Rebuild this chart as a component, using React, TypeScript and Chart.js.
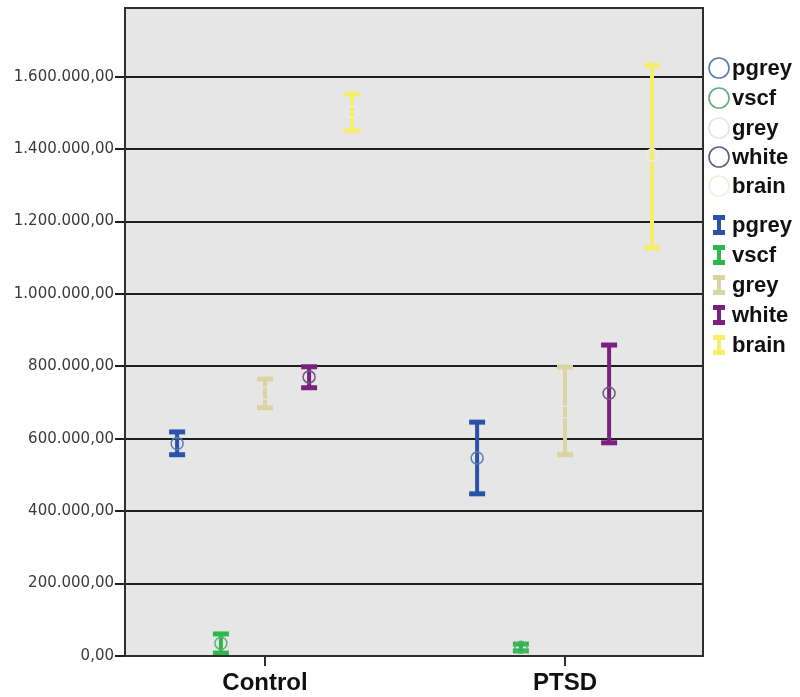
import React, { useEffect, useRef } from "react";
import { Chart, registerables } from "chart.js";

Chart.register(...registerables);

const categories = ["Control", "PTSD"];
const seriesNames = ["pgrey", "vscf", "grey", "white", "brain"];
const barColors = ["#2b52a8", "#2eb84c", "#d9d4a2", "#7c2080", "#f5ee6b"];
const circleColors = ["#5c7ab4", "#5cb080", "#e6e6e0", "#6c5a82", "#eeeee2"];
const seriesOffsets = [-0.293, -0.147, 0, 0.147, 0.29];

const meanPgrey = [587000, 547000];
const meanVscf = [35000, 24000];
const meanGrey = [726000, 674000];
const meanWhite = [771000, 726000];
const meanBrain = [1503000, 1384000];

const lowPgrey = [556000, 448000];
const lowVscf = [8000, 14000];
const lowGrey = [686000, 556000];
const lowWhite = [741000, 589000];
const lowBrain = [1451000, 1127000];

const highPgrey = [619000, 646000];
const highVscf = [61000, 33000];
const highGrey = [765000, 798000];
const highWhite = [799000, 859000];
const highBrain = [1552000, 1632000];

const yTickValues = [0, 200000, 400000, 600000, 800000, 1000000, 1200000, 1400000, 1600000];
const yMax = 1790000;

const means = [meanPgrey, meanVscf, meanGrey, meanWhite, meanBrain];
const lows = [lowPgrey, lowVscf, lowGrey, lowWhite, lowBrain];
const highs = [highPgrey, highVscf, highGrey, highWhite, highBrain];

function formatDe(v: number): string {
  const intPart = Math.round(v).toString().replace(/\B(?=(\d{3})+(?!\d))/g, ".");
  return intPart + ",00";
}

const plotBgPlugin = {
  id: "plotBg",
  beforeDraw(chart: any) {
    const { ctx, chartArea } = chart;
    ctx.save();
    ctx.fillStyle = "#e6e6e6";
    ctx.fillRect(chartArea.left, chartArea.top, chartArea.right - chartArea.left, chartArea.bottom - chartArea.top);
    ctx.restore();
  },
  afterDraw(chart: any) {
    const { ctx, chartArea } = chart;
    ctx.save();
    ctx.strokeStyle = "#2e2e2e";
    ctx.lineWidth = 2;
    ctx.strokeRect(chartArea.left, chartArea.top, chartArea.right - chartArea.left, chartArea.bottom - chartArea.top);
    ctx.restore();
  },
};

const legendPlugin = {
  id: "customLegend",
  afterDraw(chart: any) {
    const { ctx } = chart;
    const x0 = 719;
    const tx = 732;
    const circleYs = [68, 98, 128, 157, 186];
    const barYs = [225, 255, 285, 315, 345];
    ctx.save();
    ctx.font = "bold 22px 'Liberation Sans', Arial, sans-serif";
    ctx.textBaseline = "middle";
    ctx.textAlign = "left";
    seriesNames.forEach((name, i) => {
      const y = circleYs[i];
      ctx.beginPath();
      ctx.arc(x0, y, 10, 0, Math.PI * 2);
      ctx.strokeStyle = circleColors[i];
      ctx.lineWidth = 1.6;
      ctx.stroke();
      ctx.fillStyle = "#111";
      ctx.fillText(name, tx, y + 1);
    });
    seriesNames.forEach((name, i) => {
      const y = barYs[i];
      ctx.strokeStyle = barColors[i];
      ctx.lineWidth = 4;
      ctx.beginPath();
      ctx.moveTo(x0, y - 8);
      ctx.lineTo(x0, y + 8);
      ctx.stroke();
      ctx.lineWidth = 5;
      ctx.beginPath();
      ctx.moveTo(x0 - 6, y - 7.5);
      ctx.lineTo(x0 + 6, y - 7.5);
      ctx.moveTo(x0 - 6, y + 7.5);
      ctx.lineTo(x0 + 6, y + 7.5);
      ctx.stroke();
      ctx.fillStyle = "#111";
      ctx.fillText(name, tx, y + 1);
    });
    ctx.restore();
  },
};

export default function App() {
  const canvasRef = useRef<HTMLCanvasElement | null>(null);

  useEffect(() => {
    document.body.style.margin = "0";
    const canvas = canvasRef.current;
    if (!canvas) return;

    const datasets: any[] = [];
    seriesNames.forEach((name, s) => {
      datasets.push({
        label: name + " mean",
        data: categories.map((_, c) => ({ x: c + 1 + seriesOffsets[s], y: means[s][c] })),
        showLine: false,
        pointStyle: "circle",
        pointRadius: 6,
        pointBorderWidth: 1.5,
        pointBorderColor: circleColors[s],
        pointBackgroundColor: "rgba(0,0,0,0)",
      });
    });
    seriesNames.forEach((name, s) => {
      categories.forEach((_, c) => {
        const x = c + 1 + seriesOffsets[s];
        datasets.push({
          label: name + " CI " + categories[c],
          data: [
            { x, y: lows[s][c] },
            { x, y: highs[s][c] },
          ],
          showLine: true,
          borderColor: barColors[s],
          borderWidth: 4,
          pointStyle: "line",
          pointRadius: 8,
          pointBorderWidth: 5,
          pointBorderColor: barColors[s],
          pointBackgroundColor: barColors[s],
          pointHoverRadius: 8,
        });
      });
    });

    const chart = new Chart(canvas, {
      type: "scatter",
      data: { datasets },
      plugins: [plotBgPlugin, legendPlugin],
      options: {
        animation: false,
        responsive: false,
        maintainAspectRatio: false,
        layout: { autoPadding: false, padding: { top: 8, right: 97, left: 0, bottom: 0 } },
        plugins: {
          legend: { display: false },
          tooltip: { enabled: false },
        },
        scales: {
          x: {
            type: "linear",
            min: 1 - 140 / 300,
            max: 2 + 138 / 300,
            afterBuildTicks: (scale: any) => {
              scale.ticks = categories.map((_, i) => ({ value: i + 1 }));
            },
            afterFit: (scale: any) => {
              scale.height = 41;
              scale.paddingLeft = 0;
              scale.paddingRight = 0;
            },
            ticks: {
              callback: (v: any) => categories[Math.round(Number(v)) - 1] ?? "",
              font: { family: "'Liberation Sans', Arial, sans-serif", size: 24, weight: "bold" },
              color: "#111",
              padding: 3,
              maxRotation: 0,
              autoSkip: false,
            },
            grid: {
              drawOnChartArea: false,
              drawTicks: true,
              tickLength: 10,
              color: "#2e2e2e",
              lineWidth: 2,
            },
            border: { display: true, color: "#2e2e2e", width: 2 },
          },
          y: {
            type: "linear",
            min: 0,
            max: yMax,
            afterBuildTicks: (scale: any) => {
              scale.ticks = yTickValues.map((v) => ({ value: v }));
            },
            afterFit: (scale: any) => {
              scale.width = 125;
              scale.paddingTop = 0;
              scale.paddingBottom = 0;
            },
            ticks: {
              callback: (v: any) => formatDe(Number(v)),
              font: { family: "'DejaVu Sans', sans-serif", size: 15 },
              color: "#3a3a3a",
              padding: 1,
              autoSkip: false,
            },
            grid: {
              drawOnChartArea: true,
              drawTicks: true,
              tickLength: 10,
              color: "#1e1e1e",
              lineWidth: 2,
            },
            border: { display: true, color: "#2e2e2e", width: 2 },
          },
        },
      },
    } as any);

    return () => {
      chart.destroy();
    };
  }, []);

  return (
    <div style={{ width: 800, height: 697, background: "#ffffff" }}>
      <canvas ref={canvasRef} width={800} height={697} style={{ display: "block" }} />
    </div>
  );
}
